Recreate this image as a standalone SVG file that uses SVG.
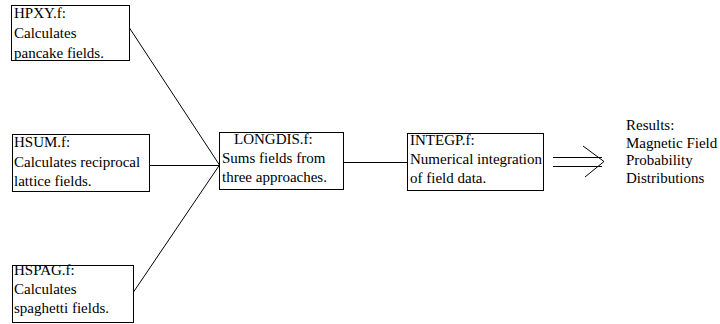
<svg xmlns="http://www.w3.org/2000/svg" width="720" height="324" viewBox="0 0 720 324">
<style>
.box{fill:#fff;stroke:#000;stroke-width:1}
.t{font-family:"Liberation Serif","Times New Roman",serif;font-size:15px;fill:#000}
.c{stroke:#000;stroke-width:1;fill:none}
</style>
<rect width="720" height="324" fill="#fff"/>
<g id="connectors">
<line class="c" x1="129.5" y1="28" x2="219.5" y2="165"/>
<line class="c" x1="149.5" y1="165.5" x2="219.5" y2="165.5"/>
<line class="c" x1="133.5" y1="292" x2="219.5" y2="165"/>
<line class="c" x1="343.5" y1="162.5" x2="407.5" y2="162.5"/>
<line class="c" x1="553" y1="157.5" x2="602" y2="157.5"/>
<line class="c" x1="553" y1="166.5" x2="602" y2="166.5"/>
<polyline class="c" points="583,146 604,161.5 585,177"/>
</g>
<g id="hpxy">
<rect class="box" x="11.5" y="5.5" width="118" height="55"/>
<text class="t" x="14" y="18">HPXY.f:</text>
<text class="t" x="14" y="38">Calculates</text>
<text class="t" x="14" y="57.5">pancake fields.</text>
</g>
<g id="hsum">
<rect class="box" x="12.5" y="134.5" width="137" height="57"/>
<text class="t" x="14" y="147">HSUM.f:</text>
<text class="t" x="14" y="167">Calculates reciprocal</text>
<text class="t" x="14" y="186">lattice fields.</text>
</g>
<g id="hspag">
<rect class="box" x="12.5" y="265.5" width="121" height="57"/>
<text class="t" x="14" y="275">HSPAG.f:</text>
<text class="t" x="14" y="294">Calculates</text>
<text class="t" x="14" y="313">spaghetti fields.</text>
</g>
<g id="longdis">
<rect class="box" x="219.5" y="132.5" width="124" height="57"/>
<text class="t" x="234" y="144">LONGDIS.f:</text>
<text class="t" x="222" y="163">Sums fields from</text>
<text class="t" x="222" y="182">three approaches.</text>
</g>
<g id="integp">
<rect class="box" x="407.5" y="133.5" width="136" height="57"/>
<text class="t" x="410" y="145">INTEGP.f:</text>
<text class="t" x="410" y="164">Numerical integration</text>
<text class="t" x="410" y="183">of field data.</text>
</g>
<g id="results">
<text class="t" x="626" y="130">Results:</text>
<text class="t" x="626" y="147.5">Magnetic Field</text>
<text class="t" x="626" y="165">Probability</text>
<text class="t" x="626" y="182.5">Distributions</text>
</g>
</svg>
